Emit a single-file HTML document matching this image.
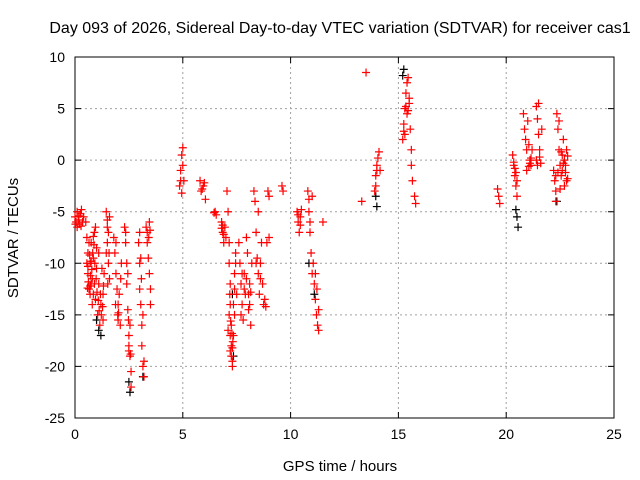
<!DOCTYPE html>
<html><head><meta charset="utf-8"><style>
html,body{margin:0;padding:0;background:#fff;}
svg{display:block;font-family:"Liberation Sans",sans-serif;}
</style></head><body>
<svg id="chart" width="640" height="480" viewBox="0 0 640 480">
<rect width="640" height="480" fill="#fff"/>
<text x="340" y="33" font-size="16" text-anchor="middle" fill="#000">Day 093 of 2026, Sidereal Day-to-day VTEC variation (SDTVAR) for receiver cas1</text>
<g id="grid"></g>
<g id="axes"></g>
<g id="black"></g>
<g id="red"></g>
<text x="340" y="471" font-size="15" text-anchor="middle">GPS time / hours</text>
<text transform="translate(18,238) rotate(-90)" font-size="15" text-anchor="middle">SDTVAR / TECUs</text>
</svg>
<script>
const xTicks=[0,5,10,15,20,25];
const yTicks=[-25,-20,-15,-10,-5,0,5,10];
const redPts=[
[0.0,-5.5],[0.05,-6],[0.1,-5],[0.15,-5.8],[0.2,-6.2],[0.25,-5.2],[0.3,-4.8],[0.35,-6],[0.4,-5.5],[0.1,-6.5],[0.02,-6.2],[0.18,-5.4],[0.28,-6.4],
[0.5,-6],[0.55,-7.5],[0.6,-9],[0.6,-11],[0.65,-12.5],[0.7,-10],[0.7,-13],[0.75,-8],[0.8,-11.5],[0.8,-14],[0.85,-9.5],[0.9,-12],[0.9,-7],[0.95,-13.5],[1.0,-10.5],[1.0,-8.5],[1.05,-15],[1.1,-12],[1.1,-9],[1.15,-16],[1.2,-14],[1.25,-10.5],[1.3,-13],[1.3,-15.5],[1.35,-11],[0.55,-10],[0.65,-8],[0.75,-12],[0.85,-13],[0.95,-6.5],
[0.6,-10.3],[0.62,-11.8],[0.68,-9.2],[0.72,-11.2],[0.78,-10.6],[0.82,-9],[0.88,-8.2],[0.92,-10],[0.98,-11.5],[1.02,-12.8],[1.08,-13.6],[1.12,-14.6],[1.18,-13],[1.22,-15],[1.28,-14.2],[1.32,-12.2],[0.58,-12.4],[0.7,-12.2],[0.75,-9.8],[0.85,-7.4],
[1.45,-5],[1.5,-6.5],[1.5,-8],[1.55,-10],[1.6,-11.5],[1.55,-7],[1.45,-9],[1.6,-5.5],[1.5,-5.8],[1.58,-9],[1.52,-12],
[1.8,-7.5],[1.85,-9],[1.9,-11],[1.95,-12.5],[2.0,-14],[2.0,-15.5],[2.05,-13],[2.1,-16],[2.15,-10],[1.9,-8],[1.88,-14],[1.98,-15],[2.02,-14.8],[2.12,-11.5],
[2.3,-6.5],[2.35,-8],[2.4,-10],[2.4,-12],[2.45,-14.5],[2.5,-17],[2.5,-18.5],[2.55,-19],[2.6,-20.5],[2.6,-22],[2.55,-16],[2.45,-11],[2.35,-7],[2.5,-18],[2.58,-18.8],[2.48,-15.5],
[2.95,-8],[3.0,-10],[3.0,-12.5],[3.05,-14],[3.1,-16],[3.1,-18],[3.15,-20],[3.2,-21],[3.05,-9.5],[3.0,-7],[3.08,-11.5],[3.15,-15],[3.2,-19.5],
[3.3,-6.5],[3.35,-8],[3.4,-9.5],[3.45,-11],[3.5,-12.5],[3.5,-14],[3.45,-6],[3.35,-7],[3.42,-7.5],[3.48,-6.8],
[4.9,-1],[4.95,0.5],[5.0,1.2],[5.0,-0.5],[4.85,-2.5],[4.95,-3.2],[5.05,-2],[4.9,-2],
[5.8,-2],[5.85,-3],[5.95,-2.5],[6.05,-3.8],[6.0,-2.2],[5.9,-2.8],
[6.5,-5],[6.55,-5.3],[6.45,-5.1],
[6.8,-6],[6.85,-7],[6.9,-8],[6.95,-6.5],[7.0,-7.5],[6.85,-6.3],[6.9,-7.2],[6.8,-6.6],
[7.05,-3],[7.1,-5],[7.15,-8],[7.15,-10],[7.2,-12],[7.2,-14],[7.25,-16],[7.25,-18],[7.3,-19.5],[7.3,-20],[7.35,-17],[7.4,-15],[7.4,-11],[7.45,-9],[7.5,-13],[7.1,-16.5],[7.2,-18.5],
[7.15,-15],[7.2,-17],[7.25,-19],[7.3,-18.2],[7.28,-16.8],[7.35,-14],[7.22,-15.6],[7.18,-13],[7.4,-12.5],[7.45,-10],[7.32,-17.6],
[7.6,-8],[7.65,-10],[7.7,-12],[7.75,-14],[7.8,-15.5],[7.85,-11],[7.9,-13],[8.0,-9],[8.05,-14.5],[8.1,-12],[8.15,-16],[8.2,-10],[7.7,-15],[7.95,-7.5],[7.75,-11],[7.85,-12.5],[7.95,-11.5],[8.05,-13],[8.1,-14],[8.15,-12.8],
[8.3,-3],[8.35,-4],[8.4,-7],[8.45,-9.5],[8.5,-11],[8.55,-13],[8.6,-10],[8.65,-8],[8.7,-12],[8.75,-14],[8.5,-5],[8.4,-10],[8.6,-11.5],[8.8,-13.5],[8.85,-14.2],
[8.9,-8],[8.95,-3],[9.0,-3.5],[9.0,-7.5],
[9.6,-2.5],[9.65,-3],
[10.3,-5],[10.35,-6],[10.4,-7],[10.45,-5.5],[10.5,-4.8],[10.35,-5.3],[10.45,-6.3],
[10.8,-3],[10.85,-5],[10.9,-7],[10.95,-9],[11.0,-11],[11.0,-3.5],[10.85,-3.8],[10.9,-6],
[11.05,-10],[11.1,-12],[11.15,-13.5],[11.2,-15],[11.25,-16],[11.3,-16.5],[11.3,-14.5],[11.15,-11],[11.22,-12.5],
[11.5,-6],
[13.3,-4],[13.5,8.5],
[13.9,-3],[13.95,-1.5],[14.0,-0.5],[14.05,0.2],[14.1,0.8],[14.15,-1],[13.95,-2.5],[14.0,-1],
[15.2,2],[15.25,3.5],[15.3,5],[15.35,6.5],[15.4,7.5],[15.45,8],[15.3,2.5],[15.4,4.5],[15.5,5.5],[15.55,3],[15.6,1],[15.6,-0.5],[15.65,-2],[15.5,6],[15.35,5.2],[15.45,4.8],[15.25,2.8],
[15.75,-3.5],[15.8,-4.2],
[19.6,-2.8],[19.65,-3.5],[19.7,-4.2],
[20.3,0.5],[20.35,-0.5],[20.4,-1.5],[20.45,-2.5],[20.5,-3.5],[20.4,-0.8],[20.5,-2],[20.35,-0.2],[20.45,-1.2],
[20.8,4.5],[20.85,3],[20.9,2],[20.95,1],[21.0,3.8],[21.05,1.5],[21.1,0],[21.15,-0.5],[20.95,-1],[21.2,1],[21.1,-0.3],[21.15,0.2],[21.05,-0.6],
[21.4,5.2],[21.45,4],[21.5,2.5],[21.55,1],[21.6,-0.3],[21.65,3],[21.5,5.5],[21.4,0],[21.45,-0.5],[21.55,0.3],
[22.2,-1],[22.25,-2],[22.3,-3],[22.3,-4],[22.35,4.5],[22.4,3],[22.45,1],[22.5,-0.5],[22.55,-1.5],[22.6,0.5],[22.65,2],[22.7,-2.5],[22.75,-0.5],[22.8,1],[22.85,-1.8],[22.5,-2.8],[22.45,3.8],
[22.6,-1],[22.65,-0.3],[22.7,0],[22.75,-1.2],[22.8,-2],[22.85,0.4],[22.55,0.8],[22.3,-1.5],[22.4,-1.2]
];
const blackPts=[
[1.1,-16.5],[1.2,-17],[1.0,-15.5],[2.5,-21.5],[2.55,-22.5],[3.15,-21],[7.3,-13],[7.35,-19],
[10.85,-10],[11.1,-13],[13.95,-3.5],[14.0,-4.5],[15.25,8.8],[15.2,8.2],[20.45,-4.8],[20.5,-5.5],[20.55,-6.5],[22.35,-4]
];
const X0=75,X1=614,Y0=418,Y1=57;
const sx=v=>X0+(v-0)/(25-0)*(X1-X0);
const sy=v=>Y0-(v+25)/(35)*(Y0-Y1);
const NS="http://www.w3.org/2000/svg";
function mk(tag,attrs,parent){const e=document.createElementNS(NS,tag);for(const k in attrs)e.setAttribute(k,attrs[k]);parent.appendChild(e);return e;}
const grid=document.getElementById('grid'),axes=document.getElementById('axes');
xTicks.forEach(t=>{
  if(t>0&&t<25){const l=mk('line',{x1:sx(t),x2:sx(t),y1:Y1,y2:Y0,stroke:'#a0a0a0','stroke-dasharray':'2,3'},grid);
  
  }
  const tk=mk('path',{d:`M${sx(t)},${Y0}v-6M${sx(t)},${Y1}v6`,stroke:'#000'},axes);
  
  
  const tx=mk('text',{x:sx(t),y:Y0+21,'font-size':14,'text-anchor':'middle'},axes);tx.textContent=t;
  
  
});
yTicks.forEach(t=>{
  if(t>-25&&t<10){const l=mk('line',{x1:X0,x2:X1,y1:sy(t),y2:sy(t),stroke:'#a0a0a0','stroke-dasharray':'2,3'},grid);
  
  }
  const tk=mk('path',{d:`M${X0},${sy(t)}h6M${X1},${sy(t)}h-6`,stroke:'#000'},axes);
  
  
  const tx=mk('text',{x:X0-10,y:sy(t)+5,'font-size':14,'text-anchor':'end'},axes);tx.textContent=t;
  
  
});
const fr=mk('rect',{x:X0,y:Y1,width:X1-X0,height:Y0-Y1,fill:'none',stroke:'#000'},axes);


function plus(p,color,g){
  const x=sx(p[0]),y=sy(p[1]);
  const e=mk('path',{d:`M${x-4},${y}h8M${x},${y-4}v8`,stroke:color,'stroke-width':1.2,fill:'none'},g);
  
  
}
blackPts.forEach(p=>plus(p,'#000',document.getElementById('black')));
redPts.forEach(p=>plus(p,'#ff0000',document.getElementById('red')));
</script>
</body></html>
